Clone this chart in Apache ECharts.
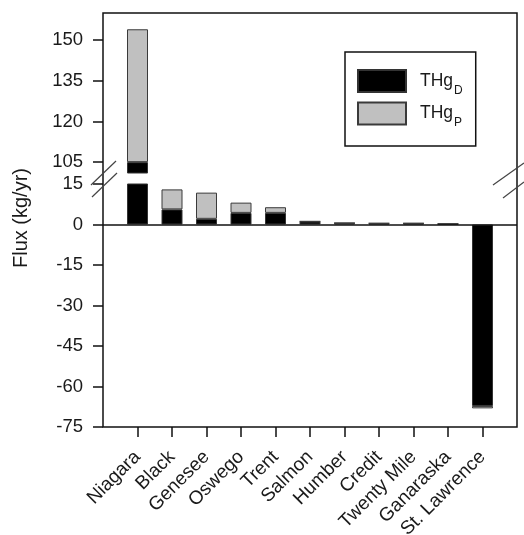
<!DOCTYPE html>
<html>
<head>
<meta charset="utf-8">
<script src="https://cdn.jsdelivr.net/npm/echarts@6/dist/echarts.min.js"></script>
<style>
  html, body { margin: 0; padding: 0; background: #fff; }
  #chart { width: 524px; height: 535px; }
</style>
</head>
<body>
<div id="chart"></div>
<script>
// ---- data ----
var categories = ['Niagara', 'Black', 'Genesee', 'Oswego', 'Trent', 'Salmon', 'Humber', 'Credit', 'Twenty Mile', 'Ganaraska', 'St. Lawrence'];
var thgD = [105, 5.6, 2.1, 4.3, 4.3, 1.1, 0.5, 0.4, 0.4, 0.2, -67.2];
var thgP = [49, 7.4, 9.7, 3.8, 2.1, 0.1, 0.1, 0.1, 0.1, 0.1, -0.9];
var upperTicks = [105, 120, 135, 150];
var lowerRange = [-75, 15];
var upperRange = [101, 160];

// ---- layout ----
var W = 524, H = 535;
var L = 103, R = 517, T = 13, B = 427;
var upBottom = 173, loTop = 184;
var FONT = "'Liberation Sans', Arial, sans-serif";
var TXT = '#1a1a1a';

var axisCats = [''].concat(categories).concat([' ']);
function pad(arr) { return [null].concat(arr).concat([null]); }

var chart = echarts.init(document.getElementById('chart'), null, { renderer: 'canvas' });

var barBase = { type: 'bar', barWidth: 21, clip: true };
var styleD = { color: '#000000', borderColor: '#333333', borderWidth: 1 };
var styleP = { color: '#c0c0c0', borderColor: '#3a3a3a', borderWidth: 1 };

var option = {
  animation: false,
  backgroundColor: '#ffffff',
  textStyle: { fontFamily: FONT },
  grid: [
    { left: L, right: W - R, top: T, height: upBottom - T, containLabel: false, outerBoundsMode: 'none' },
    { left: L, right: W - R, top: loTop, height: B - loTop, containLabel: false, outerBoundsMode: 'none' }
  ],
  xAxis: [
    { gridIndex: 0, type: 'category', data: axisCats, boundaryGap: false,
      axisLine: { show: false }, axisTick: { show: false }, axisLabel: { show: false }, splitLine: { show: false } },
    { gridIndex: 1, type: 'category', data: axisCats, boundaryGap: false, position: 'bottom',
      axisLine: { show: false, onZero: false },
      axisTick: { show: true, length: 10, lineStyle: { color: '#111', width: 1.5 },
                  interval: function (i, v) { return String(v).trim() !== ''; } },
      axisLabel: { interval: 0, rotate: 45, margin: 27, fontSize: 19, color: TXT, fontFamily: FONT },
      splitLine: { show: false } }
  ],
  yAxis: [
    { gridIndex: 0, type: 'value', min: upperRange[0], max: upperRange[1],
      axisLine: { show: false },
      axisTick: { show: true, length: 10, customValues: upperTicks, lineStyle: { color: '#111', width: 1.5 } },
      axisLabel: { customValues: upperTicks, margin: 20, fontSize: 18.5, color: TXT, fontFamily: FONT },
      splitLine: { show: false } },
    { gridIndex: 1, type: 'value', min: lowerRange[0], max: lowerRange[1], interval: 15,
      axisLine: { show: false },
      axisTick: { show: true, length: 10, lineStyle: { color: '#111', width: 1.5 } },
      axisLabel: { margin: 20, fontSize: 18.5, color: TXT, fontFamily: FONT },
      splitLine: { show: false } }
  ],
  legend: {
    data: ['THgD', 'THgP'],
    orient: 'vertical',
    left: 345, top: 52,
    padding: [17, 13, 17, 12],
    itemWidth: 48, itemHeight: 22, itemGap: 5,
    borderColor: '#111', borderWidth: 1.5,
    icon: 'rect',
    selectedMode: false,
    formatter: function (name) { return '{m|THg}{s|' + name.slice(3) + '}'; },
    textStyle: {
      rich: {
        m: { fontSize: 17.5, color: TXT, fontFamily: FONT, padding: [0, 0, 0, 9] },
        s: { fontSize: 12, color: TXT, fontFamily: FONT, padding: [19, 0, 0, 1] }
      }
    }
  },
  series: [
    Object.assign({}, barBase, { name: 'THgD', xAxisIndex: 0, yAxisIndex: 0, stack: 'up', data: pad(thgD), itemStyle: styleD }),
    Object.assign({}, barBase, { name: 'THgP', xAxisIndex: 0, yAxisIndex: 0, stack: 'up', data: pad(thgP), itemStyle: styleP }),
    Object.assign({}, barBase, { name: 'THgD', xAxisIndex: 1, yAxisIndex: 1, stack: 'lo', data: pad(thgD), itemStyle: styleD,
      markLine: { silent: true, symbol: 'none', label: { show: false },
                  lineStyle: { color: '#111', width: 1.5, type: 'solid' },
                  data: [{ yAxis: 0 }] } }),
    Object.assign({}, barBase, { name: 'THgP', xAxisIndex: 1, yAxisIndex: 1, stack: 'lo', data: pad(thgP), itemStyle: styleP })
  ],
  graphic: [
    { type: 'rect', z: 100, silent: true, shape: { x: L, y: T, width: R - L, height: B - T },
      style: { fill: null, stroke: '#111', lineWidth: 1.5 } },
    { type: 'line', z: 101, silent: true, shape: { x1: 91, y1: 185, x2: 116, y2: 161 }, style: { stroke: '#444', lineWidth: 1.2 } },
    { type: 'line', z: 101, silent: true, shape: { x1: 92, y1: 197, x2: 117, y2: 173 }, style: { stroke: '#444', lineWidth: 1.2 } },
    { type: 'line', z: 101, silent: true, shape: { x1: 493, y1: 185, x2: 524, y2: 163 }, style: { stroke: '#444', lineWidth: 1.2 } },
    { type: 'line', z: 101, silent: true, shape: { x1: 503, y1: 198, x2: 524, y2: 182 }, style: { stroke: '#444', lineWidth: 1.2 } },
    { type: 'text', z: 101, silent: true, x: 21, y: 218, rotation: Math.PI / 2,
      style: { text: 'Flux (kg/yr)', fontSize: 20, fontFamily: FONT, fill: TXT, align: 'center', verticalAlign: 'middle' } }
  ]
};
chart.setOption(option);
</script>
</body>
</html>
